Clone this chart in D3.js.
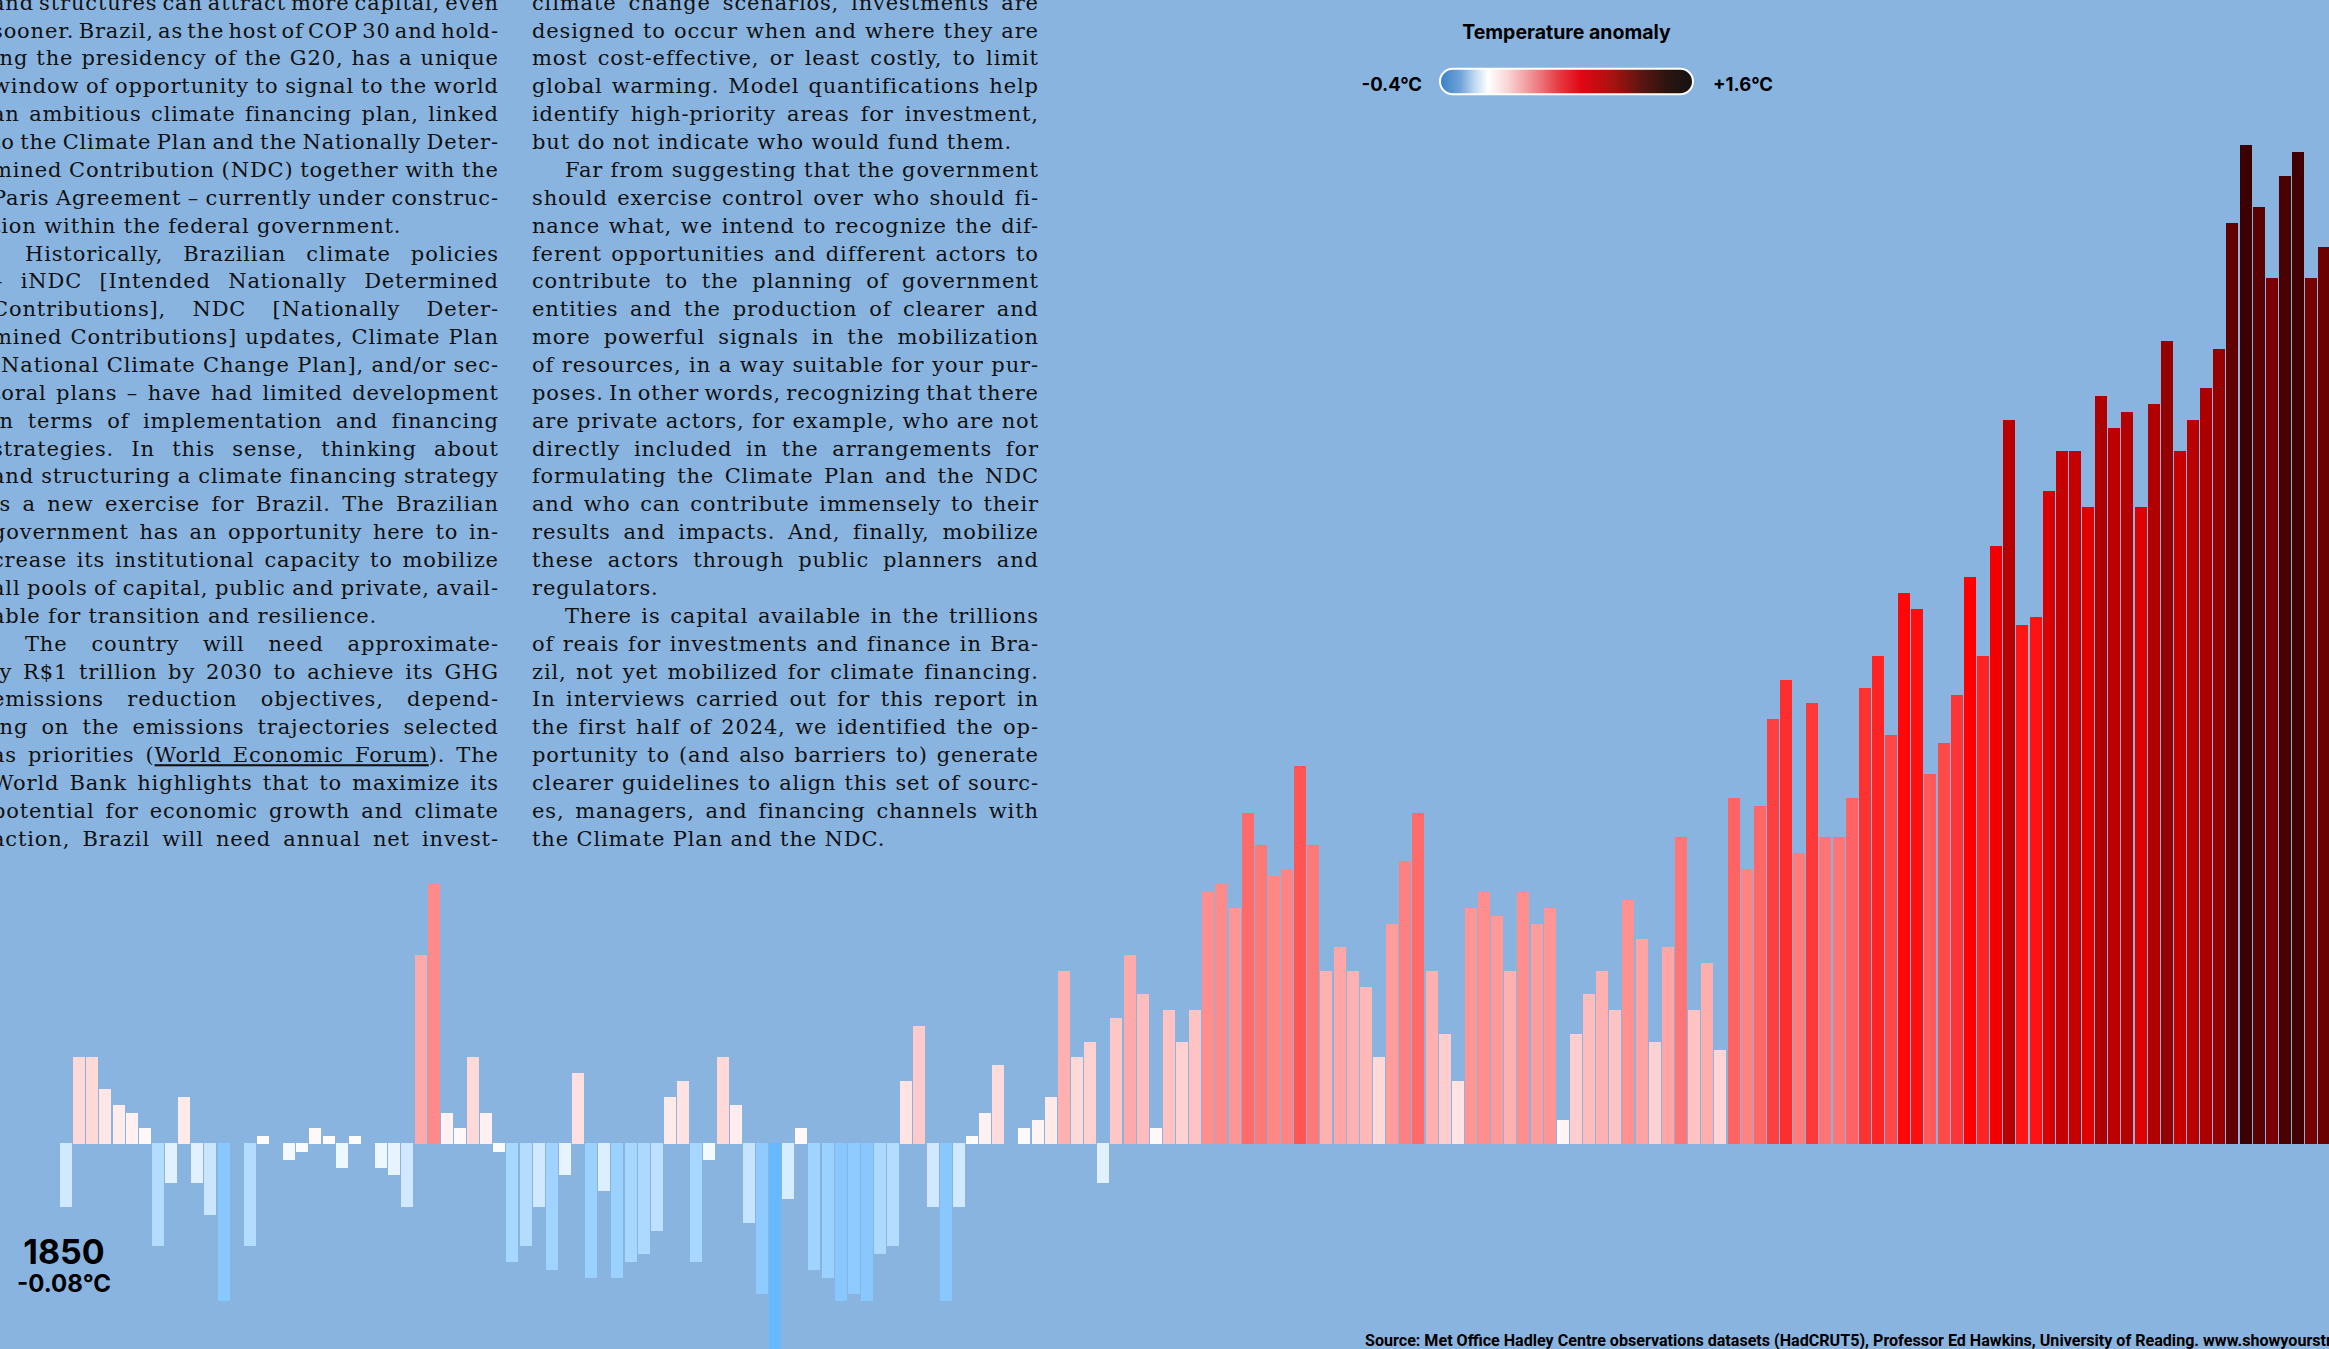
<!DOCTYPE html>
<html>
<head>
<meta charset="utf-8">
<script src="https://cdn.jsdelivr.net/npm/d3@7"></script>
<style>
  html, body { margin: 0; padding: 0; background: #8ab4e0; overflow: hidden; }
  svg { display: block; }
</style>
</head>
<body>
<svg id="chart" width="2329" height="1349"></svg>
<script>
// ---------------- DATA ----------------
const firstYear = 1850;
const anomalies = [
  -0.08, 0.11, 0.11, 0.07, 0.05, 0.04, 0.02, -0.13, -0.05, 0.06,
  -0.05, -0.09, -0.20, 0.00, -0.13, 0.01, 0.00, -0.02, -0.01, 0.02,
  0.01, -0.03, 0.01, 0.00, -0.03, -0.04, -0.08, 0.24, 0.33, 0.04,
  0.02, 0.11, 0.04, -0.01, -0.15, -0.13, -0.08, -0.16, -0.04, 0.09,
  -0.17, -0.06, -0.17, -0.15, -0.14, -0.11, 0.06, 0.08, -0.15, -0.02,
  0.11, 0.05, -0.10, -0.19, -0.26, -0.07, 0.02, -0.16, -0.17, -0.20,
  -0.19, -0.20, -0.14, -0.13, 0.08, 0.15, -0.08, -0.20, -0.08, 0.01,
  0.04, 0.10, 0.00, 0.02, 0.03, 0.06, 0.22, 0.11, 0.13, -0.05,
  0.16, 0.24, 0.19, 0.02, 0.17, 0.13, 0.17, 0.32, 0.33, 0.30,
  0.42, 0.38, 0.34, 0.35, 0.48, 0.38, 0.22, 0.25, 0.22, 0.20,
  0.11, 0.28, 0.36, 0.42, 0.22, 0.14, 0.08, 0.30, 0.32, 0.29,
  0.22, 0.32, 0.28, 0.30, 0.03, 0.14, 0.19, 0.22, 0.17, 0.31,
  0.26, 0.13, 0.25, 0.39, 0.17, 0.23, 0.12, 0.44, 0.35, 0.43,
  0.54, 0.59, 0.37, 0.56, 0.39, 0.39, 0.44, 0.58, 0.62, 0.52,
  0.70, 0.68, 0.47, 0.51, 0.57, 0.72, 0.62, 0.76, 0.92, 0.66,
  0.67, 0.83, 0.88, 0.88, 0.81, 0.95, 0.91, 0.93, 0.81, 0.94,
  1.02, 0.88, 0.92, 0.96, 1.01, 1.17, 1.27, 1.19, 1.10, 1.23,
  1.26, 1.10, 1.14
];
const years = anomalies.map((_, i) => firstYear + i);

const legendTitle = "Temperature anomaly";
const legendMinLabel = "-0.4°C";
const legendMaxLabel = "+1.6°C";
const sourceText = "Source: Met Office Hadley Centre observations datasets (HadCRUT5), Professor Ed Hawkins, University of Reading. www.showyourstripes.info";

// paragraphs: indent = first line indented, ends = last line is paragraph end (not justified)
const leftColumn = [
  { indent: false, ends: true, lines: [
    "and structures can attract more capital, even",
    "sooner. Brazil, as the host of COP 30 and hold-",
    "ing the presidency of the G20, has a unique",
    "window of opportunity to signal to the world",
    "an ambitious climate financing plan, linked",
    "to the Climate Plan and the Nationally Deter-",
    "mined Contribution (NDC) together with the",
    "Paris Agreement – currently under construc-",
    "tion within the federal government."
  ]},
  { indent: true, ends: true, lines: [
    "Historically, Brazilian climate policies",
    "– iNDC [Intended Nationally Determined",
    "Contributions], NDC [Nationally Deter-",
    "mined Contributions] updates, Climate Plan",
    "[National Climate Change Plan], and/or sec-",
    "toral plans – have had limited development",
    "in terms of implementation and financing",
    "strategies. In this sense, thinking about",
    "and structuring a climate financing strategy",
    "is a new exercise for Brazil. The Brazilian",
    "government has an opportunity here to in-",
    "crease its institutional capacity to mobilize",
    "all pools of capital, public and private, avail-",
    "able for transition and resilience."
  ]},
  { indent: true, ends: false, lines: [
    "The country will need approximate-",
    "ly R$1 trillion by 2030 to achieve its GHG",
    "emissions reduction objectives, depend-",
    "ing on the emissions trajectories selected",
    "as priorities ({World Economic Forum}). The",
    "World Bank highlights that to maximize its",
    "potential for economic growth and climate",
    "action, Brazil will need annual net invest-"
  ]}
];
const middleColumn = [
  { indent: false, ends: true, lines: [
    "climate change scenarios, investments are",
    "designed to occur when and where they are",
    "most cost-effective, or least costly, to limit",
    "global warming. Model quantifications help",
    "identify high-priority areas for investment,",
    "but do not indicate who would fund them."
  ]},
  { indent: true, ends: true, lines: [
    "Far from suggesting that the government",
    "should exercise control over who should fi-",
    "nance what, we intend to recognize the dif-",
    "ferent opportunities and different actors to",
    "contribute to the planning of government",
    "entities and the production of clearer and",
    "more powerful signals in the mobilization",
    "of resources, in a way suitable for your pur-",
    "poses. In other words, recognizing that there",
    "are private actors, for example, who are not",
    "directly included in the arrangements for",
    "formulating the Climate Plan and the NDC",
    "and who can contribute immensely to their",
    "results and impacts. And, finally, mobilize",
    "these actors through public planners and",
    "regulators."
  ]},
  { indent: true, ends: true, lines: [
    "There is capital available in the trillions",
    "of reais for investments and finance in Bra-",
    "zil, not yet mobilized for climate financing.",
    "In interviews carried out for this report in",
    "the first half of 2024, we identified the op-",
    "portunity to (and also barriers to) generate",
    "clearer guidelines to align this set of sourc-",
    "es, managers, and financing channels with",
    "the Climate Plan and the NDC."
  ]}
];

// ---------------- LAYOUT / STYLE ----------------
const W = 2329, H = 1349;
const bg = "#8ab4e0";
const svg = d3.select("#chart");
svg.append("rect").attr("width", W).attr("height", H).attr("fill", bg);

// ---- body text columns ----
const textFont = "'DejaVu Serif', serif";
const textSize = 21;
const letterSp = 0.85;
const lineStep = 27.87;
const firstBaseline = 9.7;
const colWidth = 506;
const indentW = 33;

function drawColumn(paragraphs, left) {
  const g = svg.append("g")
    .attr("font-family", textFont)
    .attr("font-size", textSize)
    .attr("letter-spacing", letterSp)
    .attr("fill", "#111");
  let k = 0;
  paragraphs.forEach(p => {
    p.lines.forEach((line, li) => {
      const isFirst = li === 0 && p.indent;
      const isLast = li === p.lines.length - 1 && p.ends;
      const xs = left + (isFirst ? indentW : 0);
      const width = colWidth - (isFirst ? indentW : 0);
      const yb = firstBaseline + k * lineStep;
      const t = g.append("text").attr("x", xs).attr("y", yb);
      const parts = line.split(/(\{[^}]*\})/);
      parts.forEach(part => {
        if (!part) return;
        if (part.startsWith("{")) {
          t.append("tspan").text(part.slice(1, -1)).style("text-decoration", "underline");
        } else {
          t.append("tspan").text(part);
        }
      });
      if (!isLast) {
        const natural = t.node().getComputedTextLength() - letterSp;
        const clean = line.replace(/[{}]/g, "");
        const spaces = (clean.match(/ /g) || []).length;
        if (spaces > 0) t.style("word-spacing", ((width - natural) / spaces) + "px");
      }
      k++;
    });
  });
}
drawColumn(leftColumn, -8);
drawColumn(middleColumn, 532);

// ---- bars ----
const data = years.map((yr, i) => ({ year: yr, value: anomalies[i] }));
const step = 13.13, pad = 0.086, x0 = 60;
const x = d3.scaleBand()
  .domain(years)
  .range([x0, x0 + step * (years.length - pad)])
  .paddingInner(pad)
  .paddingOuter(0);

const baselineY = 1144, pxPerDegree = 787;
const y = d3.scaleLinear().domain([0, 1]).range([baselineY, baselineY - pxPerDegree]);

const color = d3.scaleLinear()
  .domain([-0.26, 0, 0.72, 1.44])
  .range(["#66b8ff", "#ffffff", "#ff0000", "#000000"])
  .clamp(true);

svg.append("g")
  .selectAll("rect")
  .data(data)
  .join("rect")
  .attr("x", d => x(d.year))
  .attr("width", x.bandwidth())
  .attr("y", d => d.value >= 0 ? y(d.value) : y(0) - 1)
  .attr("height", d => d.value >= 0 ? y(0) - y(d.value) : (y(d.value) - y(0) + 1))
  .attr("fill", d => color(d.value))
  .attr("shape-rendering", "crispEdges");

// ---- first-year label ----
const fmt = d => (d < 0 ? "-" : "+") + Math.abs(d).toFixed(2) + "°C";
const labelX = x(years[0]) + x.bandwidth() / 2 - 2;
svg.append("text")
  .attr("x", labelX).attr("y", 1264)
  .attr("text-anchor", "middle")
  .attr("font-family", "Inter, Roboto, sans-serif")
  .attr("font-weight", 700)
  .attr("font-size", 34)
  .attr("fill", "#000")
  .text(years[0]);
svg.append("text")
  .attr("x", labelX).attr("y", 1292)
  .attr("text-anchor", "middle")
  .attr("font-family", "Inter, Roboto, sans-serif")
  .attr("font-weight", 700)
  .attr("font-size", 24)
  .attr("fill", "#000")
  .text(fmt(anomalies[0]));

// ---- legend ----
const defs = svg.append("defs");
const grad = defs.append("linearGradient").attr("id", "legGrad")
  .attr("x1", "0%").attr("x2", "100%").attr("y1", "0%").attr("y2", "0%");
const gradStops = [
  [0, "#3a7fc6"], [0.08, "#6fa3d9"], [0.14, "#c3dbf1"], [0.19, "#ffffff"],
  [0.27, "#f9d3d5"], [0.38, "#ef8187"], [0.47, "#e63a42"], [0.56, "#e20613"],
  [0.68, "#a8130f"], [0.80, "#5a1510"], [0.90, "#2a1410"], [1, "#141212"]
];
grad.selectAll("stop").data(gradStops).join("stop")
  .attr("offset", d => d[0]).attr("stop-color", d => d[1]);

const leg = { x: 1440, y: 68.7, w: 253, h: 25.5 };
svg.append("rect")
  .attr("x", leg.x).attr("y", leg.y).attr("width", leg.w).attr("height", leg.h)
  .attr("rx", leg.h / 2).attr("ry", leg.h / 2)
  .attr("fill", "url(#legGrad)")
  .attr("stroke", "#ffffff").attr("stroke-width", 2);

const legFont = "Inter, Roboto, sans-serif";
svg.append("text")
  .attr("x", leg.x + leg.w / 2).attr("y", 39.3)
  .attr("text-anchor", "middle")
  .attr("font-family", legFont).attr("font-weight", 700).attr("font-size", 19.5)
  .attr("fill", "#000").text(legendTitle);
svg.append("text")
  .attr("x", 1422).attr("y", 90.7)
  .attr("text-anchor", "end")
  .attr("font-family", legFont).attr("font-weight", 700).attr("font-size", 18.5)
  .attr("fill", "#000").text(legendMinLabel);
svg.append("text")
  .attr("x", 1713).attr("y", 90.7)
  .attr("text-anchor", "start")
  .attr("font-family", legFont).attr("font-weight", 700).attr("font-size", 18.5)
  .attr("fill", "#000").text(legendMaxLabel);

// ---- source ----
svg.append("text")
  .attr("x", 1365).attr("y", 1346)
  .attr("font-family", "Roboto, Inter, sans-serif")
  .attr("font-weight", 700).attr("font-size", 16.1)
  .attr("fill", "#000")
  .text(sourceText);
</script>
</body>
</html>
